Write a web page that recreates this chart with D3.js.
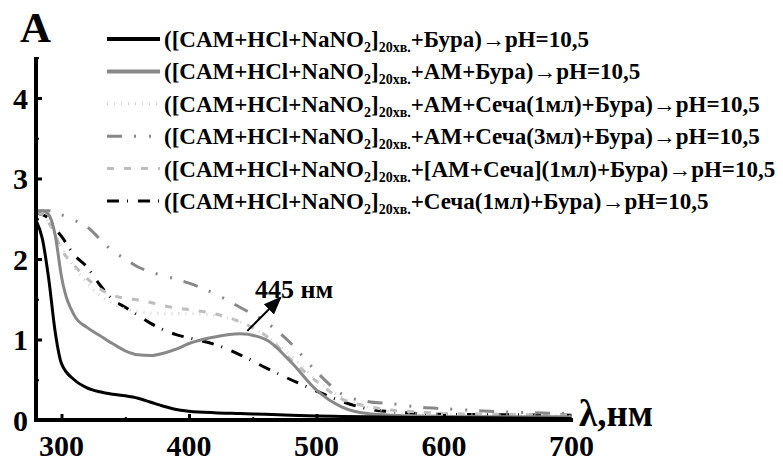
<!DOCTYPE html>
<html>
<head>
<meta charset="utf-8">
<script src="https://cdn.jsdelivr.net/npm/d3@7"></script>
</head>
<body style="margin:0">
<svg id="chart" width="783" height="461"></svg>
<script>
// wavelength grid, nm
const wavelengths = [280, 285, 290, 295, 300, 310, 320, 330, 340, 350, 360, 370, 380, 390, 400, 420, 440, 460, 480, 500, 520, 540, 560, 580, 600, 650, 700];

// absorbance of each sample
const buraOnly   = [2.48, 2.25, 1.75, 1.1, 0.7, 0.5, 0.4, 0.35, 0.32, 0.3, 0.27, 0.22, 0.17, 0.13, 0.11, 0.09, 0.08, 0.07, 0.06, 0.05, 0.045, 0.04, 0.035, 0.03, 0.03, 0.025, 0.02];
const amBura     = [2.6, 2.6, 2.55, 2.3, 1.78, 1.3, 1.15, 1.05, 0.95, 0.86, 0.81, 0.8, 0.83, 0.88, 0.95, 1.03, 1.07, 1.0, 0.72, 0.37, 0.16, 0.08, 0.06, 0.05, 0.045, 0.04, 0.04];
const amSecha1   = [2.58, 2.55, 2.45, 2.3, 2.15, 1.9, 1.7, 1.55, 1.45, 1.38, 1.35, 1.33, 1.32, 1.32, 1.32, 1.3, 1.22, 1.05, 0.8, 0.5, 0.28, 0.16, 0.1, 0.08, 0.07, 0.06, 0.05];
const amSecha3   = [2.57, 2.6, 2.6, 2.58, 2.55, 2.48, 2.4, 2.25, 2.1, 2.0, 1.9, 1.84, 1.79, 1.75, 1.7, 1.57, 1.4, 1.22, 0.95, 0.6, 0.32, 0.23, 0.2, 0.16, 0.14, 0.1, 0.08];
const amSechaMix = [2.58, 2.55, 2.45, 2.3, 2.12, 1.92, 1.76, 1.63, 1.55, 1.51, 1.49, 1.46, 1.42, 1.39, 1.37, 1.32, 1.22, 1.05, 0.75, 0.48, 0.26, 0.17, 0.12, 0.1, 0.08, 0.07, 0.06];
const secha1     = [2.57, 2.55, 2.5, 2.38, 2.28, 2.05, 1.9, 1.68, 1.5, 1.4, 1.3, 1.2, 1.12, 1.06, 1.02, 0.94, 0.81, 0.65, 0.5, 0.36, 0.23, 0.14, 0.1, 0.08, 0.07, 0.065, 0.06];

// legend tails after the common prefix
const legendTails = [
  "+Бура)→pH=10,5",
  "+AM+Бура)→pH=10,5",
  "+AM+Сеча(1мл)+Бура)→pH=10,5",
  "+AM+Сеча(3мл)+Бура)→pH=10,5",
  "+[AM+Сеча](1мл)+Бура)→pH=10,5",
  "+Сеча(1мл)+Бура)→pH=10,5"
];

const xTicks = [300, 400, 500, 600, 700];
const yTicks = [0, 1, 2, 3, 4];

const series = [
  {values: buraOnly,   color: "#000",    width: 3, dash: null},
  {values: amBura,     color: "#888",    width: 3, dash: null},
  {values: amSecha1,   color: "#d4d4d4", width: 3, dash: "1,6"},
  {values: amSecha3,   color: "#888",    width: 3, dash: "15,12,2,13,2,12"},
  {values: amSechaMix, color: "#bdbdbd", width: 3, dash: "7,10"},
  {values: secha1,     color: "#000",    width: 3, dash: "12,8,1,10"}
];

const svg = d3.select("#chart");

function label(sel) {
  return sel.append("text")
    .attr("font-family", "Liberation Serif")
    .attr("font-weight", "bold")
    .attr("fill", "#000");
}

const x = d3.scaleLinear().domain([280, 700]).range([36, 571.5]);
const y = d3.scaleLinear().domain([0, 4.5]).range([420, 57.7]);

// curves
const line = d3.line()
  .x((d, i) => x(wavelengths[i]))
  .y(d => y(d))
  .curve(d3.curveMonotoneX);

const curveG = svg.append("g");
series.slice().reverse().forEach(s => {
  curveG.append("path")
    .attr("d", line(s.values))
    .attr("fill", "none")
    .attr("stroke", s.color)
    .attr("stroke-width", s.width)
    .attr("stroke-dasharray", s.dash);
});

// axes with inward ticks
const xAxisG = svg.append("g").attr("transform", `translate(0,420)`);
xAxisG.call(d3.axisTop(x).tickValues(d3.range(300, 701, 50)).tickSize(5).tickFormat(""));
xAxisG.select(".domain").remove();
xAxisG.selectAll(".tick line").attr("stroke-width", d => d % 100 === 0 ? 3 : 2)
  .attr("y2", d => d % 100 === 0 ? -6 : -3);
xAxisG.selectAll(".tick").filter(d => d === 700).remove();

const yAxisG = svg.append("g").attr("transform", `translate(36,0)`);
yAxisG.call(d3.axisRight(y).tickValues(d3.range(0.5, 4.51, 0.5)).tickSize(5).tickFormat(""));
yAxisG.select(".domain").remove();
yAxisG.selectAll(".tick line").attr("stroke-width", d => d % 1 === 0 ? 3 : 2)
  .attr("x2", d => d % 1 === 0 ? 6 : 3);

svg.append("line").attr("x1", 36).attr("x2", 573).attr("y1", 420).attr("y2", 420)
  .attr("stroke", "#000").attr("stroke-width", 4);
svg.append("line").attr("x1", 36).attr("x2", 36).attr("y1", 57).attr("y2", 422)
  .attr("stroke", "#000").attr("stroke-width", 4);

// tick labels
svg.append("g").selectAll("text").data(xTicks).join("text")
  .attr("font-family", "Liberation Serif").attr("font-weight", "bold")
  .attr("x", d => x(d)).attr("y", 456)
  .attr("text-anchor", "middle").attr("font-size", 30)
  .text(d => d);
svg.append("g").selectAll("text").data(yTicks).join("text")
  .attr("font-family", "Liberation Serif").attr("font-weight", "bold")
  .attr("x", 28).attr("y", d => y(d) + 11)
  .attr("text-anchor", "end").attr("font-size", 30)
  .text(d => d);

// axis titles
label(svg).attr("x", 20).attr("y", 42).attr("font-size", 43).text("A");
label(svg).attr("x", 579).attr("y", 426).attr("font-size", 37).text("λ,нм");

// annotation
const peak = [445, 1.07];
svg.append("defs").append("marker")
  .attr("id", "arr").attr("viewBox", "0 0 10 10").attr("refX", 9).attr("refY", 5)
  .attr("markerWidth", 9).attr("markerHeight", 9).attr("orient", "auto")
  .append("path").attr("d", "M0,1 L10,5 L0,9 z").attr("fill", "#000");
svg.append("line")
  .attr("x1", x(peak[0]) + 1).attr("y1", y(peak[1]) - 3)
  .attr("x2", x(peak[0]) + 34).attr("y2", y(peak[1]) - 36)
  .attr("stroke", "#000").attr("stroke-width", 2)
  .attr("marker-end", "url(#arr)");
label(svg).attr("x", 255).attr("y", 298).attr("font-size", 26).text("445 нм");

// legend
const legG = svg.append("g");
series.forEach((s, i) => {
  const ly = 39 + i * 32.4;
  legG.append("line")
    .attr("x1", 107).attr("x2", 160).attr("y1", ly).attr("y2", ly)
    .attr("stroke", s.color).attr("stroke-width", i < 2 ? 4 : 3)
    .attr("stroke-dasharray", s.dash);
  const t = label(legG).attr("x", 164).attr("y", ly + 8).attr("font-size", 23);
  t.append("tspan").text("([CAM+HCl+NaNO");
  t.append("tspan").attr("font-size", 14).attr("dy", 5).text("2");
  t.append("tspan").attr("dy", -5).text("]");
  t.append("tspan").attr("font-size", 14).attr("dy", 5).text("20хв.");
  t.append("tspan").attr("dy", -5).text(legendTails[i]);
});
</script>
</body>
</html>
